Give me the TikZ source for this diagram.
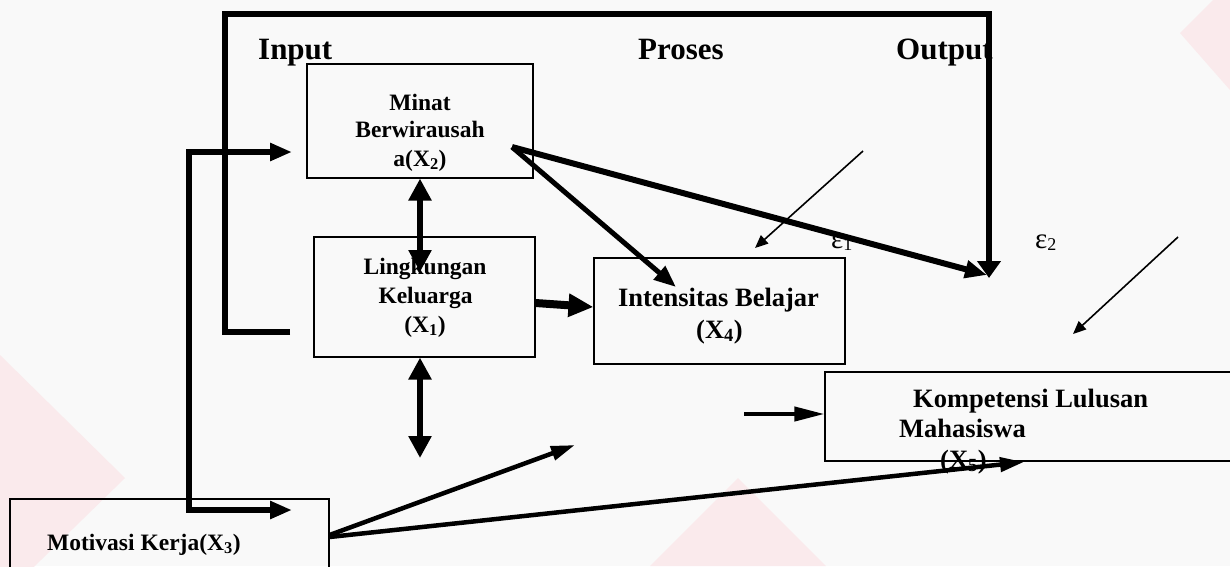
\documentclass[tikz,border=0pt]{standalone}
\usepackage{fontspec}
\setmainfont{Liberation Serif}
\usetikzlibrary{arrows.meta}
\definecolor{wmark}{RGB}{250,234,236}
\definecolor{paper}{RGB}{249,249,249}

\begin{document}
\begin{tikzpicture}[x=1pt,y=-1pt,
  box/.style={draw=black, line width=1.1pt, rectangle, inner sep=0pt},
  head/.style={font=\bfseries\fontsize{31}{36}\selectfont, inner sep=0pt, anchor=base west},
  txt/.style={font=\bfseries\fontsize{23.5}{28}\selectfont, inner sep=0pt, anchor=base},
  txtbig/.style={font=\bfseries\fontsize{26.5}{32}\selectfont, inner sep=0pt, anchor=base},
  eps/.style={font=\fontsize{29}{30}\selectfont, inner sep=0pt, anchor=base west},
  frameline/.style={line width=6pt, line join=miter},
  feed/.style={line width=6pt, line join=miter, {Triangle[length=22pt,width=17pt]}-{Triangle[length=22pt,width=17pt]}},
  dbl/.style={line width=6.5pt, {Triangle[length=22pt,width=22pt]}-{Triangle[length=22pt,width=22pt]}},
  thick/.style={line width=5.5pt, -{Triangle[length=22pt,width=17pt]}},
  mid/.style={line width=4.5pt, -{Triangle[length=24pt,width=14pt]}},
  thin/.style={line width=1.6pt, -{Triangle[length=13pt,width=11pt]}}
]
\useasboundingbox (0,0) rectangle (1230,566);
\clip (0,0) rectangle (1230,566);

% paper and faint corner shapes
\fill[paper] (0,0) rectangle (1230,566);
\fill[wmark] (1180,33) -- (1213,0) -- (1230,0) -- (1230,90) -- cycle;
\fill[wmark] (0,355) -- (125,478) -- (0,600) -- cycle;
\fill[wmark] (738,478) -- (650,566) -- (826,566) -- cycle;

% boxes
\node[box, minimum width=226pt, minimum height=114pt] (minat) at (420,121) {};
\node[box, minimum width=221pt, minimum height=120pt] (ling) at (424.5,297) {};
\node[box, minimum width=251pt, minimum height=106pt] (intens) at (719.5,311) {};
\node[box, minimum width=440pt, minimum height=89pt] (komp) at (1045,416.5) {};
\node[box, minimum width=319pt, minimum height=140pt] (motiv) at (169.5,569) {};

% headings
\node[head] (hin) at (258,59) {Input};
\node[head] (hpro) at (638,59) {Proses};
\node[head] (hout) at (896,59) {Output};

% box texts
\node[txt] (m1) at (420,110) {Minat};
\node[txt] (m2) at (420,137.5) {Berwirausah};
\node[txt] (m3) at (420,166) {a(X\textsubscript{2})};
\node[txt] (l1) at (425,274) {Lingkungan};
\node[txt] (l2) at (425.5,303) {Keluarga};
\node[txt] (l3) at (425,332) {(X\textsubscript{1})};
\node[txtbig] (i1) at (718.5,306) {Intensitas Belajar};
\node[txtbig] (i2) at (719.5,338) {(X\textsubscript{4})};
\node[txtbig, anchor=base west] (k1) at (913,407) {Kompetensi Lulusan};
\node[txtbig, anchor=base west] (k2) at (899,437) {Mahasiswa};
\node[txtbig, anchor=base west] (k3) at (940,468) {(X\textsubscript{5})};
\node[txt, anchor=base west] (mo) at (47,550) {Motivasi Kerja(X\textsubscript{3})};

% error terms
\node[eps] (e1) at (831,248) {ε\raisebox{-2pt}{\fontsize{18}{18}\selectfont 1}};
\node[eps] (e2) at (1035,248) {ε\raisebox{-2pt}{\fontsize{18}{18}\selectfont 2}};

% free ends of connectors
\coordinate (stub) at (290,332);
\coordinate (outpt) at (989,278);
\coordinate (feedtop) at (292,152);
\coordinate (feedbot) at (292,510);
\coordinate (lingtop) at (420,272);
\coordinate (lingbot) at (420,458);
\coordinate (mstart) at (512,147);
\coordinate (itop) at (676,287);
\coordinate (otip) at (987,275);
\coordinate (e1a) at (863,151);
\coordinate (e1b) at (755,248);
\coordinate (e2a) at (1178,237);
\coordinate (e2b) at (1073,334);
\coordinate (kin) at (744,414);
\coordinate (mtip) at (575,445);
\coordinate (ktip) at (1024,462);

% outer frame from input to output
\draw[frameline, -{Triangle[length=17pt,width=23pt]}]
  (stub) -- (225,332) -- (225,14) -- (989,14) -- (outpt);

% feed line from motivation to the inputs
\draw[feed] (feedtop) -- (189,152) -- (189,510) -- (feedbot);

% links between variables
\draw[dbl] (minat.south) -- (lingtop);
\draw[dbl] (ling.south -| minat.south) -- (lingbot);
\draw[line width=8pt, -{Triangle[length=25pt,width=22pt]}]
  ([yshift=-6pt]ling.east) -- ([yshift=4pt]intens.west);
\draw[thick, line width=5pt] (mstart) -- (itop);
\draw[thick, line width=6pt] (mstart) -- (otip);
\draw[line width=4pt, -{Triangle[length=30pt,width=14pt]}] (kin) -- (kin -| komp.west);
\draw[mid] ([yshift=34pt]motiv.east) -- (mtip);
\draw[mid] ([yshift=32pt]motiv.east) -- (ktip);
\draw[thin] (e1a) -- (e1b);
\draw[thin] (e2a) -- (e2b);
\end{tikzpicture}
\end{document}
